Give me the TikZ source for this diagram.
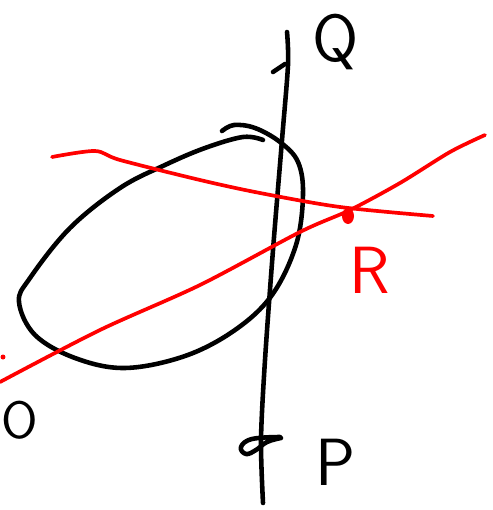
\documentclass[tikz,border=0pt]{standalone}
\begin{document}
\begin{tikzpicture}[x=0.02cm,y=-0.02cm,
  pen/.style={line width=2.6pt,line cap=round,line join=round},
  redpen/.style={red,line width=2.1pt,line cap=round,line join=round},
  lab/.style={font=\sffamily\fontsize{38}{42}\selectfont,inner sep=0pt}]
\useasboundingbox (0,0) rectangle (493,510);
% closed curve
\draw[pen] plot[smooth,tension=0.6] coordinates {(222,131) (234,125) (255,128) (280,142) (298,162) (303,195) (296,245) (272,295) (235,330) (185,356) (125,368) (75,358) (35,335) (19,302) (30,278) (70,228) (120,188) (165,165) (205,148) (243,137) (263,140)};
% vertical line PQ
\coordinate (top) at (287,32);
\coordinate (bot) at (263,503);
\draw[pen] plot[smooth] coordinates {(287,32) (288,65) (282,140) (273,250) (265,360) (261,440) (263,503)};
% tick at Q
\coordinate (qa) at (273,72);
\coordinate (qb) at (285,64);
\draw[pen] (qa) -- (qb);
% loop at P
\draw[pen] plot[smooth,tension=0.7] coordinates {(280,437) (252,439) (241,447) (246,454) (256,450) (267,442) (281,438)};
% red lines
\draw[redpen] plot[smooth,tension=0.5] coordinates {(52,157) (95,151) (120,160) (200,180) (260,193) (340,207) (433,216)};
\draw[redpen] plot[smooth,tension=0.5] coordinates {(0,382) (100,330) (200,285) (300,232) (350,210) (400,183) (450,152) (485,135)};
% intersection R
\coordinate (R) at (348,216);
\fill[red] (R) ellipse (0.12cm and 0.16cm);
\fill[red] (3,357) circle (0.05cm);
% labels
\node[lab] (Qlab) at (336,42) {Q};
\node[lab] (Plab) at (336,462) {P};
\node[lab,red] (Rlab) at (370,270) {R};
\node[lab,font=\sffamily\fontsize{30}{34}\selectfont] (Olab) at (20,420) {O};
\end{tikzpicture}
\end{document}
